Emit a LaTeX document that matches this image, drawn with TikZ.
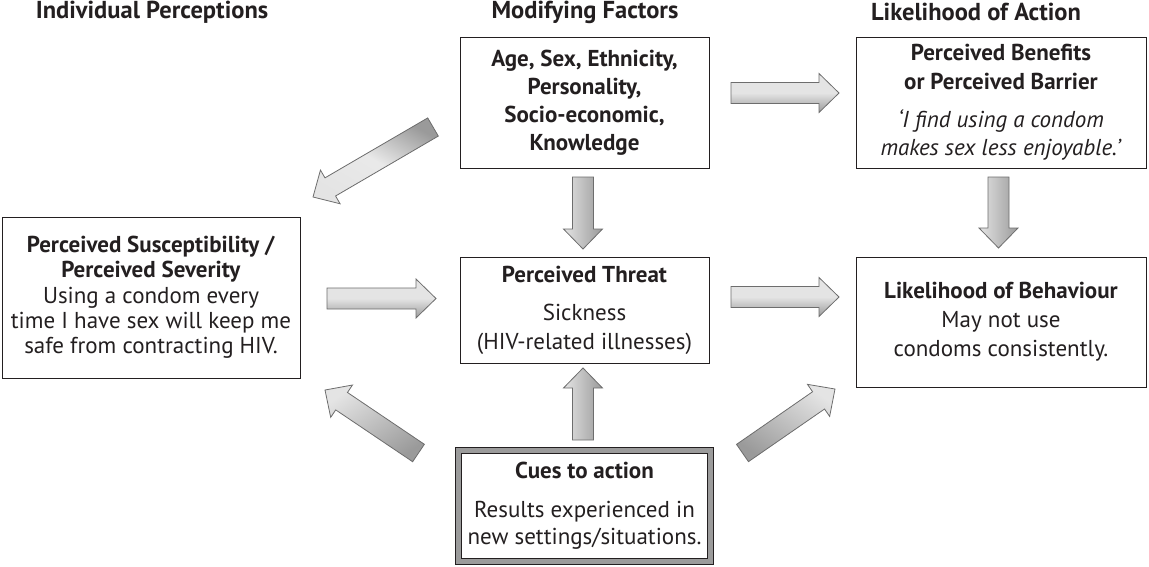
\documentclass[tikz,border=0pt]{standalone}
\usepackage{fontspec}
\setmainfont{PT Sans}
\usepackage{xcolor}
\definecolor{boxline}{HTML}{231f20}
\definecolor{arrowline}{HTML}{6d6d6d}
\definecolor{arrowlight}{HTML}{e4e4e4}
\definecolor{arrowdark}{HTML}{9a9a9a}
\definecolor{cueframe}{HTML}{9b9b9b}
\usetikzlibrary{positioning,calc}
\tikzset{
    box/.style={
        rectangle,
        draw=boxline,
        fill=white,
        text=boxline,
        line width=1pt,
        align=center,
        inner sep=0pt,
        outer sep=0pt,
        font=\fontsize{23}{25}\selectfont,
    },
    cuebox/.style={
        box,
        draw=boxline,
        line width=1pt,
        double=cueframe,
        double distance=5pt,
    },
    heading/.style={
        text=boxline,
        font=\fontsize{24.5}{26}\selectfont\bfseries,
        inner sep=0pt,
    },
    fatarrow/.style={
        draw=arrowline,
        line width=0.8pt,
        line join=miter,
    },
}
% block arrow from #2 to #3
\newcommand{\fatarrow}[3][]{%
    \coordinate (neck) at ($(#3)!20pt!(#2)$);
    \draw[fatarrow,#1] ($(#2)!10.5pt!90:(#3)$) -- ($(neck)!10.5pt!90:(#3)$)
        -- ($(neck)!19.5pt!90:(#3)$) -- (#3) -- ($(neck)!19.5pt!-90:(#3)$)
        -- ($(neck)!10.5pt!-90:(#3)$) -- ($(#2)!10.5pt!-90:(#3)$) -- cycle;
}

\begin{document}
\begin{tikzpicture}[x=1pt,y=-1pt]
    \useasboundingbox (0,0) rectangle (1149,566);

    % Column headings
    \node[heading] (hind) at (152,12) {Individual Perceptions};
    \node[heading] (hmod) at (585,12) {Modifying Factors};
    \node[heading] (hlik) at (976,12) {Likelihood of Action};

    % Boxes
    \node[box, minimum width=249pt, minimum height=131pt] (factors) at (584.5,102.5)
        {\textbf{Age, Sex, Ethnicity,}\\[3pt]\textbf{Personality,}\\[3pt]\textbf{Socio-economic,}\\[3pt]\textbf{Knowledge}};
    \node[box, minimum width=290pt, minimum height=131pt] (benefits) at (1001,102.5)
        {\textbf{Perceived Benefits}\\[4pt]\textbf{or Perceived Barrier}\\[13pt]\textit{‘I find using a condom}\\[3pt]\textit{makes sex less enjoyable.’}};
    \node[box, minimum width=298pt, minimum height=161pt] (susc) at (151,297.5)
        {\textbf{Perceived Susceptibility /}\\\textbf{Perceived Severity}\\[1pt]Using a condom every\\time I have sex will keep me\\safe from contracting HIV.};
    \node[box, minimum width=249pt, minimum height=106pt] (threat) at (584.5,310)
        {\textbf{Perceived Threat}\\[13pt]Sickness\\[4pt](HIV-related illnesses)};
    \node[box, minimum width=290pt, minimum height=130pt] (behav) at (1001,322)
        {\textbf{Likelihood of Behaviour}\\[4pt]May not use\\[4pt]condoms consistently.};
    \node[cuebox, minimum width=252pt, minimum height=111pt] (cues) at (584.5,506)
        {\textbf{Cues to action}\\[14pt]Results experienced in\\[2pt]new settings/situations.};

    % Arrow ends
    \coordinate (a1) at ($(factors.east)+(22,-9.5)$);
    \coordinate (a2) at ($(benefits.west)+(-17,-9.5)$);
    \coordinate (b1) at ($(factors.west)+(-27,24.5)$);
    \coordinate (b2) at ($(susc.north east)+(13,-20)$);
    \coordinate (c1) at ($(factors.south)+(-1.5,9)$);
    \coordinate (c2) at ($(threat.north)+(-1.5,-8)$);
    \coordinate (d1) at ($(susc.east)+(27,1)$);
    \coordinate (d2) at ($(threat.west)+(-24,-11.5)$);
    \coordinate (e1) at ($(threat.east)+(22,-13)$);
    \coordinate (e2) at ($(behav.west)+(-17,-25)$);
    \coordinate (f1) at ($(benefits.south)+(-2.5,9)$);
    \coordinate (f2) at ($(behav.north)+(-2.5,-9)$);
    \coordinate (g1) at ($(cues.north)+(-1.5,-10.5)$);
    \coordinate (g2) at ($(threat.south)+(-1.5,5)$);
    \coordinate (h1) at ($(cues.north west)+(-40,2.5)$);
    \coordinate (h2) at ($(susc.south east)+(25,12)$);
    \coordinate (i1) at ($(cues.north east)+(32,2.5)$);
    \coordinate (i2) at ($(behav.south west)+(-21,2)$);

    % Block arrows
    \fatarrow[top color=arrowlight, bottom color=arrowdark, middle color=arrowlight]{a1}{a2}
    \fatarrow[top color=arrowdark, bottom color=arrowlight, middle color=arrowlight!80, shading angle=-30]{b1}{b2}
    \fatarrow[left color=arrowlight, right color=arrowdark]{c1}{c2}
    \fatarrow[top color=arrowlight, bottom color=arrowdark, middle color=arrowlight]{d1}{d2}
    \fatarrow[top color=arrowlight, bottom color=arrowdark, middle color=arrowlight]{e1}{e2}
    \fatarrow[left color=arrowlight, right color=arrowdark]{f1}{f2}
    \fatarrow[left color=arrowlight, right color=arrowdark]{g1}{g2}
    \fatarrow[top color=arrowlight, bottom color=arrowdark, shading angle=35]{h1}{h2}
    \fatarrow[top color=arrowlight, bottom color=arrowdark, shading angle=-35]{i1}{i2}
\end{tikzpicture}
\end{document}
